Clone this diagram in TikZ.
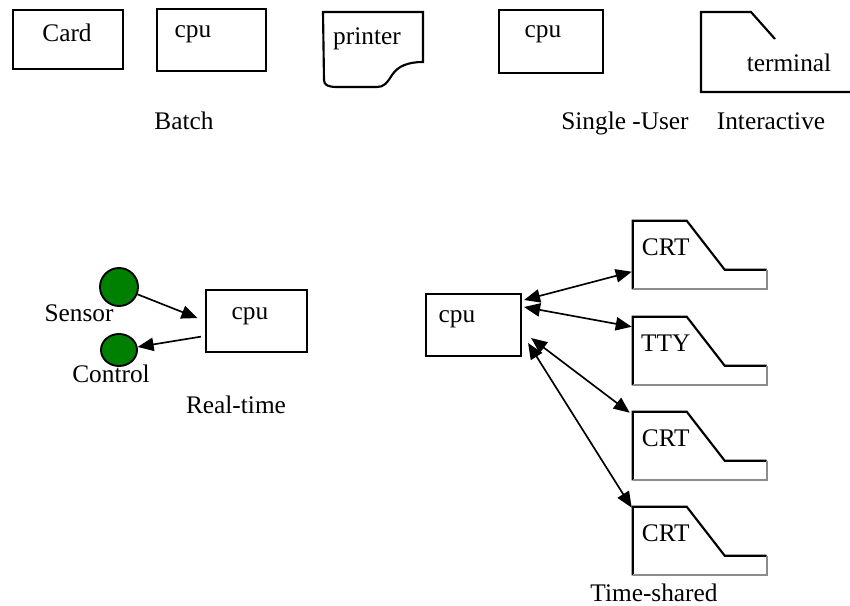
\documentclass[tikz,border=0pt]{standalone}
\usepackage{fontspec}
\setmainfont{Liberation Serif}
\usetikzlibrary{calc,fit,arrows.meta,shapes.geometric}
\definecolor{ledgreen}{RGB}{0,128,0}
\definecolor{shadowgray}{RGB}{140,140,140}
\tikzset{
  dbox/.style={draw, line width=1.6pt, inner sep=0pt},
  tline/.style={line width=1.6pt, line join=miter},
  tshadow/.style={line width=1.6pt, shadowgray},
  sdot/.style={draw, line width=1.4pt, fill=ledgreen, inner sep=0pt},
  conn/.style={line width=1.25pt, -{Triangle[length=12pt,width=10pt]}},
  dconn/.style={line width=1.25pt, {Triangle[length=12pt,width=10pt]}-{Triangle[length=12pt,width=10pt]}},
  dlabel/.style={font=\fontsize{19}{22}\selectfont, inner sep=0pt, anchor=base},
}

\begin{document}
\begin{tikzpicture}[x=0.75pt,y=-0.75pt]
  \useasboundingbox (0,0) rectangle (850,606);
  % ---- Batch ----
  \node[dbox, fit={(13,10) (123,69)}] (card) {};
  \node[dlabel] (cardlbl) at (67,42) {Card};
  \node[dbox, fit={(157,9) (266,71)}] (bcpu) {};
  \node[dlabel] (bcpulbl) at (193,38) {cpu};
  \draw[tline] (323,12) -- (423,12) -- (423,62)
    .. controls (408,62) and (398,66) .. (392,75)
    .. controls (387,83) and (384,87) .. (377,87) -- (337,87)
    .. controls (328,87) and (324,85) .. (324,80) -- cycle;
  \node[dlabel] (printerlbl) at (367,45) {printer};
  \node[dlabel] (batchlbl) at (184,130) {Batch};
  % ---- Single-User / Interactive ----
  \node[dbox, fit={(499,10) (603,73)}] (scpu) {};
  \node[dlabel] (scpulbl) at (543,38) {cpu};
  \draw[tline] (775,39) -- (751,12) -- (701,12) -- (701,92) -- (850,92);
  \node[dlabel] (termlbl) at (789,72) {terminal};
  \node[dlabel] (singlelbl) at (625,130) {Single -User};
  \node[dlabel] (interlbl) at (771,130) {Interactive};
  % ---- Real-time ----
  \node[sdot, circle, minimum size=28.5pt] (sensor) at (119,287) {};
  \node[sdot, ellipse, minimum width=27pt, minimum height=24pt] (control) at (119,350) {};
  \node[dlabel] (sensorlbl) at (79,321) {Sensor};
  \node[dlabel] (controllbl) at (111,382) {Control};
  \node[dbox, fit={(206,290) (307,352)}] (rtcpu) {};
  \node[dlabel] (rtcpulbl) at (250,320) {cpu};
  \draw[conn, shorten >=6pt] (sensor) -- (rtcpu.west);
  \draw[conn, shorten <=3pt] ($(rtcpu.west)+(0,15)$) -- (control);
  \node[dlabel] (rtlbl) at (236,413) {Real-time};
  % ---- Time-shared ----
  \node[dbox, fit={(426,294) (521,356)}] (tscpu) {};
  \node[dlabel] (tscpulbl) at (457,322) {cpu};
  \foreach \nm/\ty/\lbl in {crta/221/CRT, tty/317/TTY, crtb/412/CRT, crtc/507/CRT}{
    \node[inner sep=0pt, fit={(633,\ty) (767,\ty+68)}] (\nm) {};
    \draw[tline] (\nm.south west) -- (\nm.north west) -- ++(54,0) -- ++(38,49) -- ++(42,0);
    \draw[tshadow] (\nm.south west) -- (\nm.south east) -- ++(0,-19);
    \node[dlabel] (\nm lbl) at ($(\nm.north west)+(33,35)$) {\lbl};
  }
  \draw[dconn] ($(tscpu.east)+(2,-25)$) -- ($(crta.north west)+(-1,51)$);
  \draw[dconn] ($(tscpu.east)+(2,-18)$) -- ($(tty.north west)+(-1,10)$);
  \draw[dconn] ($(tscpu.east)+(9,13)$) -- ($(crtb.north west)+(-3,1)$);
  \draw[dconn] ($(tscpu.east)+(6,18)$) -- ($(crtc.north west)+(-1,1)$);
  \node[dlabel] (tslbl) at (654,601) {Time-shared};
\end{tikzpicture}
\end{document}
